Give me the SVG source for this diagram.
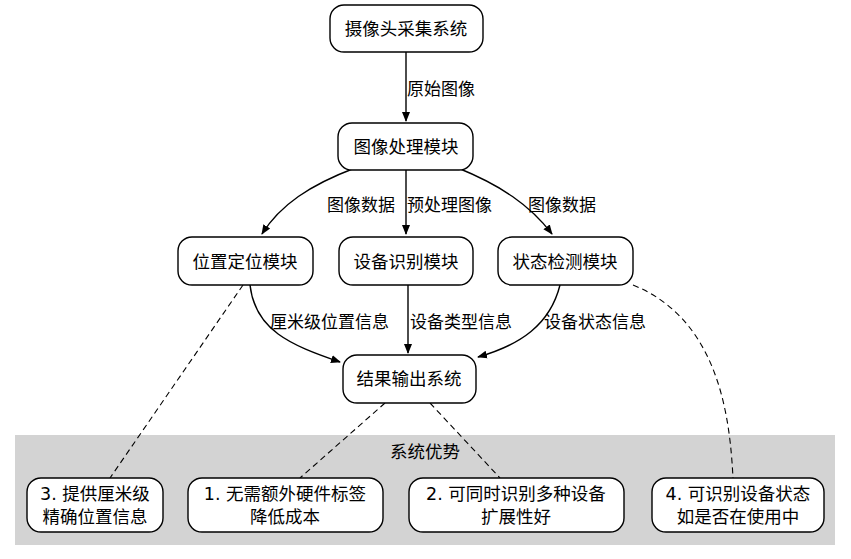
<svg xmlns="http://www.w3.org/2000/svg" width="851" height="559" viewBox="0 0 851 559">
<style>
.n{fill:#fff;stroke:#000;stroke-width:1.4}
.t{font-family:"DejaVu Sans","Noto Sans CJK SC",sans-serif;font-size:17.5px;fill:#000;text-anchor:middle}
.l{font-family:"DejaVu Sans","Noto Sans CJK SC",sans-serif;font-size:17px;fill:#000}
.e{fill:none;stroke:#000;stroke-width:1.4}
.d{fill:none;stroke:#000;stroke-width:1.1;stroke-dasharray:6,4}
</style>
<defs><marker id="a" markerWidth="10" markerHeight="10" refX="9" refY="5" orient="auto" markerUnits="userSpaceOnUse"><path d="M0,1 L10,5 L0,9 z" fill="#000"/></marker></defs>
<rect x="15" y="435" width="820" height="110" fill="#d3d3d3"/>
<text class="t" x="425" y="458">系统优势</text>
<g id="connectors">
<path class="e" d="M406,52 V121" marker-end="url(#a)"/>
<path class="e" d="M355,168 C310,185 280,205 262,234" marker-end="url(#a)"/>
<path class="e" d="M406,170 V234" marker-end="url(#a)"/>
<path class="e" d="M458,168 C500,185 530,205 552,234" marker-end="url(#a)"/>
<path class="e" d="M250,285 C255,330 290,345 340,362" marker-end="url(#a)"/>
<path class="e" d="M408,285 L408,353" marker-end="url(#a)"/>
<path class="e" d="M560,285 C550,325 520,345 478,357" marker-end="url(#a)"/>
<path class="d" d="M243,285 L110,478"/>
<path class="d" d="M385,403 L300,478"/>
<path class="d" d="M430,403 L500,478"/>
<path class="d" d="M633,285 C720,320 730,420 733,478"/>
</g>
<text class="l" x="407" y="95">原始图像</text>
<text class="l" x="327" y="211">图像数据</text>
<text class="l" x="407" y="211">预处理图像</text>
<text class="l" x="528" y="211">图像数据</text>
<text class="l" x="270" y="328">厘米级位置信息</text>
<text class="l" x="410" y="328">设备类型信息</text>
<text class="l" x="544" y="328">设备状态信息</text>
<g id="n1"><rect class="n" x="330" y="5" width="153" height="47" rx="14"/><text class="t" x="406" y="35">摄像头采集系统</text></g>
<g id="n2"><rect class="n" x="338" y="123" width="135" height="47" rx="14"/><text class="t" x="406" y="153">图像处理模块</text></g>
<g id="n3"><rect class="n" x="178" y="237" width="135" height="48" rx="14"/><text class="t" x="245" y="268">位置定位模块</text></g>
<g id="n4"><rect class="n" x="339" y="237" width="134" height="48" rx="14"/><text class="t" x="406" y="268">设备识别模块</text></g>
<g id="n5"><rect class="n" x="498" y="237" width="135" height="48" rx="14"/><text class="t" x="565" y="268">状态检测模块</text></g>
<g id="n6"><rect class="n" x="343" y="355" width="133" height="48" rx="14"/><text class="t" x="409" y="385">结果输出系统</text></g>
<g id="b3"><rect class="n" x="27" y="478" width="136" height="54" rx="14"/><text class="t" x="95" y="500">3. 提供厘米级</text><text class="t" x="95" y="523">精确位置信息</text></g>
<g id="b1"><rect class="n" x="188" y="478" width="195" height="54" rx="14"/><text class="t" x="285" y="500">1. 无需额外硬件标签</text><text class="t" x="285" y="523">降低成本</text></g>
<g id="b2"><rect class="n" x="409" y="478" width="215" height="54" rx="14"/><text class="t" x="516" y="500">2. 可同时识别多种设备</text><text class="t" x="516" y="523">扩展性好</text></g>
<g id="b4"><rect class="n" x="652" y="478" width="172" height="54" rx="14"/><text class="t" x="738" y="500">4. 可识别设备状态</text><text class="t" x="738" y="523">如是否在使用中</text></g>
</svg>
